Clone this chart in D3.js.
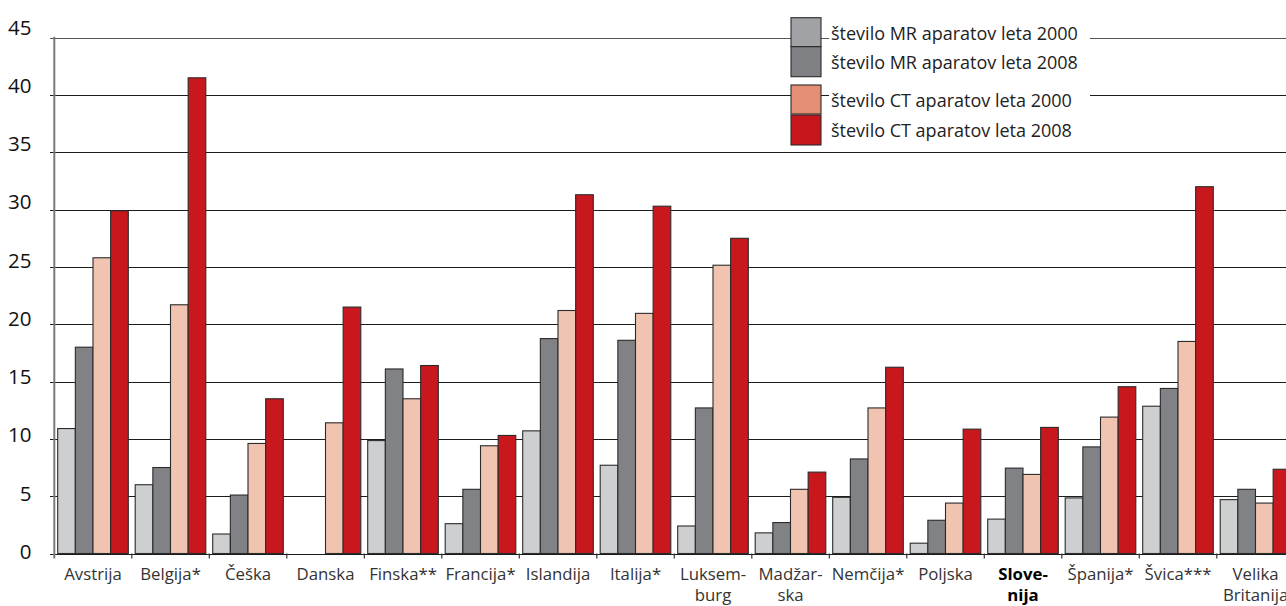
<!DOCTYPE html>
<html lang="sl">
<head>
<meta charset="utf-8">
<title>Število MR in CT aparatov</title>
<script src="https://cdn.jsdelivr.net/npm/d3@7"></script>
<style>
  html, body { margin: 0; padding: 0; background: #fff; }
  svg { display: block; }
  text { font-family: "Open Sans", "Noto Sans", sans-serif; }
</style>
</head>
<body>
<svg id="chart" width="1286" height="606"></svg>
<script>
// Države (dve vrstici, kjer je ime deljeno)
const countries = [
  ["Avstrija"], ["Belgija*"], ["Češka"], ["Danska"], ["Finska**"], ["Francija*"],
  ["Islandija"], ["Italija*"], ["Luksem-", "burg"], ["Madžar-", "ska"], ["Nemčija*"],
  ["Poljska"], ["Slove-", "nija"], ["Španija*"], ["Švica***"], ["Velika", "Britanija"]
];
const highlighted = "Slove-";

// Število aparatov na milijon prebivalcev
const mr2000 = [10.9, 6.0, 1.7, null, 9.85, 2.6, 10.7, 7.7, 2.4, 1.8, 4.9, 0.9, 3.0, 4.85, 12.85, 4.7];
const mr2008 = [18.0, 7.5, 5.1, null, 16.1, 5.6, 18.75, 18.6, 12.7, 2.7, 8.25, 2.9, 7.45, 9.3, 14.4, 5.6];
const ct2000 = [25.8, 21.7, 9.6, 11.4, 13.5, 9.4, 21.2, 20.95, 25.15, 5.6, 12.7, 4.4, 6.9, 11.9, 18.5, 4.4];
const ct2008 = [29.9, 41.5, 13.5, 21.5, 16.4, 10.3, 31.3, 30.3, 27.5, 7.1, 16.25, 10.85, 11.0, 14.55, 32.0, 7.35];

const yTicks = [0, 5, 10, 15, 20, 25, 30, 35, 40, 45];

const seriesNames = [
  "število MR aparatov leta 2000",
  "število MR aparatov leta 2008",
  "število CT aparatov leta 2000",
  "število CT aparatov leta 2008"
];
const seriesValues = [mr2000, mr2008, ct2000, ct2008];
const barColors = ["#cdcfd1", "#818286", "#f0c4b1", "#c9171e"];
const legendColors = ["#a0a2a5", "#808185", "#e48f74", "#c8161d"];

const svg = d3.select("#chart");

const x0 = 54.3, xEnd = 1294.3, yZero = 553.5, yTop = 37.7;
const y = d3.scaleLinear().domain([0, 45]).range([yZero, yTop]);
// vrednosti ob osi so postavljene nekoliko nad mrežne črte
const yLabel = d3.scaleLinear().domain([0, 45]).range([550.8, 26.7]);

const x = d3.scaleBand().domain(d3.range(countries.length)).range([x0, xEnd]).padding(0);
const xs = d3.scaleBand().domain(d3.range(4)).range([3.4, 74.0]).padding(0);

// mrežne črte
svg.append("g").selectAll("line").data(yTicks).join("line")
  .attr("x1", 50).attr("x2", 1286)
  .attr("y1", d => Math.round(y(d)) + 0.5).attr("y2", d => Math.round(y(d)) + 0.5)
  .attr("stroke", d => d === 45 ? "#555" : "#1c1c1c")
  .attr("stroke-width", 1.1);

// oznake osi y
svg.append("g").selectAll("text").data(yTicks).join("text")
  .attr("x", 31.5).attr("y", d => yLabel(d))
  .attr("text-anchor", "end").attr("dominant-baseline", "central")
  .attr("font-size", 20.5).attr("fill", "#111")
  .text(d => d);

// stolpci
const groups = svg.append("g").selectAll("g").data(countries).join("g")
  .attr("transform", (d, i) => `translate(${x(i)},0)`);

groups.each(function(c, i) {
  const g = d3.select(this);
  seriesValues.forEach((vals, s) => {
    const v = vals[i];
    if (v == null) return;
    g.append("rect")
      .attr("x", xs(s)).attr("width", xs.bandwidth())
      .attr("y", y(v)).attr("height", yZero - y(v))
      .attr("fill", barColors[s])
      .attr("stroke", "#2b2b2b").attr("stroke-width", 1.1);
  });
});

// os y
svg.append("line")
  .attr("x1", x0).attr("x2", x0).attr("y1", yTop - 1).attr("y2", yZero + 5)
  .attr("stroke", "#7a7a7a").attr("stroke-width", 2);

// kljukice na osi x
svg.append("g").selectAll("line").data(d3.range(1, countries.length)).join("line")
  .attr("x1", i => x(i)).attr("x2", i => x(i))
  .attr("y1", yZero).attr("y2", yZero + 5)
  .attr("stroke", "#333").attr("stroke-width", 1.2);

// imena držav
const labels = svg.append("g").selectAll("text").data(countries).join("text")
  .attr("x", (d, i) => x(i) + x.bandwidth() / 2)
  .attr("y", 579.5)
  .attr("text-anchor", "middle")
  .attr("font-size", 16.8)
  .attr("font-weight", d => d[0] === highlighted ? 700 : 400)
  .attr("fill", d => d[0] === highlighted ? "#000" : "#333");
labels.each(function(d) {
  const t = d3.select(this);
  d.forEach((line, k) => {
    t.append("tspan")
      .attr("x", t.attr("x"))
      .attr("dy", k === 0 ? 0 : 21)
      .text(line);
  });
});

// legenda
const legend = svg.append("g");
legend.append("rect").attr("x", 829).attr("y", 16).attr("width", 261).attr("height", 62).attr("fill", "#fff");
legend.append("rect").attr("x", 829).attr("y", 84).attr("width", 261).attr("height", 62).attr("fill", "#fff");
const swatchY = [17.7, 46.7, 85, 115];
seriesNames.forEach((name, s) => {
  legend.append("rect")
    .attr("x", 791).attr("y", swatchY[s]).attr("width", 30).attr("height", s % 2 === 0 ? 29 : 30)
    .attr("fill", legendColors[s]).attr("stroke", "#2b2b2b").attr("stroke-width", 1.1);
  legend.append("text")
    .attr("x", 831).attr("y", swatchY[s] + 15)
    .attr("dominant-baseline", "central")
    .attr("font-size", 18).attr("fill", "#222")
    .text(name);
});
</script>
</body>
</html>
